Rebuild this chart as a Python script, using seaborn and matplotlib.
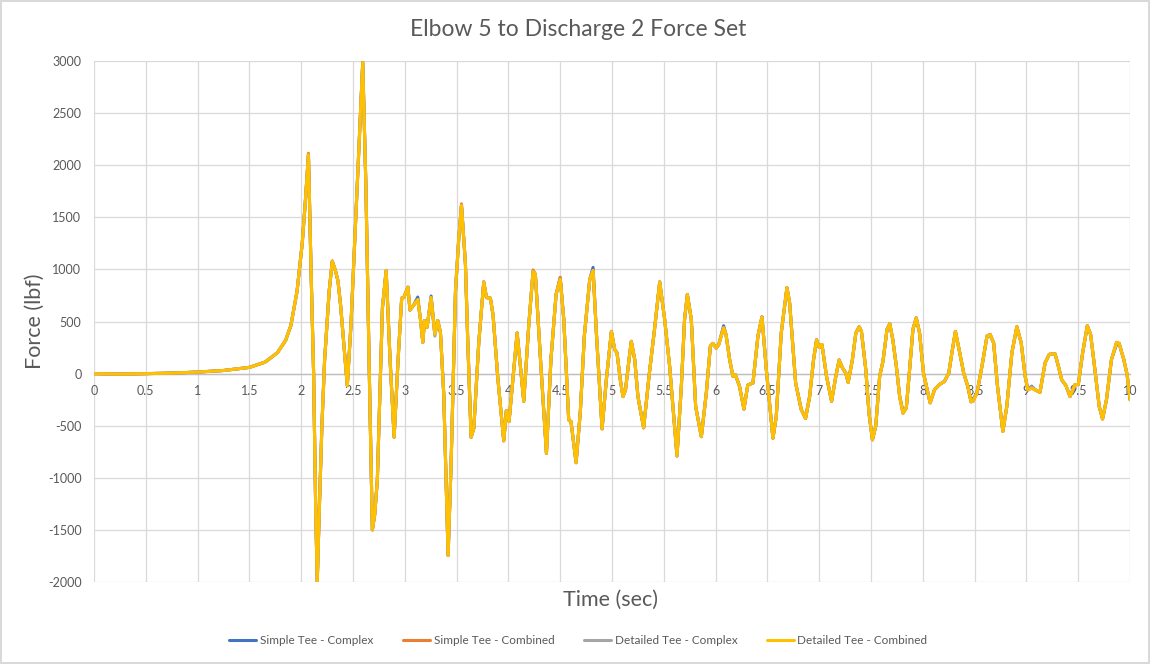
import pandas as pd
import matplotlib.pyplot as plt
import seaborn as sns
from matplotlib.ticker import MultipleLocator, FormatStrFormatter

# Values (time in sec, force in lbf)
time_s = [
    0.0, 0.25, 0.5, 0.75, 1.0, 1.25, 1.5, 1.65, 1.77, 1.85, 1.9, 1.96, 2.01, 2.04, 2.07, 2.095,
    2.12, 2.14, 2.155, 2.175, 2.2, 2.226, 2.27, 2.30, 2.33, 2.355, 2.38, 2.41, 2.445, 2.48, 2.525,
    2.57, 2.594, 2.625, 2.655, 2.687, 2.71, 2.735, 2.784, 2.82, 2.858, 2.897, 2.935, 2.97, 2.99,
    3.03, 3.05, 3.087, 3.125, 3.15, 3.174, 3.19, 3.215, 3.254, 3.29, 3.318, 3.344, 3.376, 3.408,
    3.418, 3.447, 3.489, 3.52, 3.547, 3.585, 3.608, 3.64, 3.666, 3.714, 3.762, 3.788, 3.826, 3.852,
    3.897, 3.955, 3.98, 4.006, 4.045, 4.084, 4.11, 4.148, 4.196, 4.238, 4.26, 4.31, 4.367, 4.41,
    4.46, 4.5, 4.534, 4.582, 4.604, 4.653, 4.694, 4.733, 4.785, 4.817, 4.849, 4.904, 4.945, 4.994,
    5.026, 5.048, 5.08, 5.106, 5.13, 5.164, 5.186, 5.219, 5.25, 5.305, 5.357, 5.41, 5.46, 5.508,
    5.556, 5.588, 5.627, 5.669, 5.7, 5.727, 5.765, 5.807, 5.862, 5.91, 5.949, 5.974, 6.006, 6.03,
    6.077, 6.1, 6.135, 6.167, 6.19, 6.23, 6.273, 6.31, 6.36, 6.408, 6.447, 6.489, 6.553, 6.585,
    6.633, 6.688, 6.714, 6.772, 6.826, 6.868, 6.907, 6.945, 6.974, 7.0, 7.026, 7.07, 7.119, 7.16,
    7.192, 7.224, 7.256, 7.279, 7.32, 7.353, 7.385, 7.407, 7.449, 7.48, 7.513, 7.545, 7.583, 7.615,
    7.654, 7.68, 7.71, 7.744, 7.776, 7.808, 7.84, 7.872, 7.904, 7.936, 7.968, 8.006, 8.07, 8.112,
    8.16, 8.208, 8.25, 8.28, 8.314, 8.353, 8.394, 8.433, 8.465, 8.484, 8.522, 8.57, 8.619, 8.65,
    8.683, 8.72, 8.772, 8.81, 8.859, 8.907, 8.949, 8.987, 9.013, 9.05, 9.083, 9.13, 9.18, 9.22,
    9.276, 9.308, 9.34, 9.381, 9.42, 9.468, 9.5, 9.542, 9.587, 9.619, 9.66, 9.702, 9.734, 9.772,
    9.82, 9.869, 9.894, 9.939, 9.971, 10.0,
]

detailed_combined = [
    0, -5, 0, 5, 15, 30, 60, 110, 200, 320, 460, 790, 1250, 1650, 2100, 1000,
    0, -1300, -2000, -1300, -500, 130, 790, 1080, 990, 890, 660, 300, -115, 460, 1450,
    2440, 2985, 1780, 130, -1500, -1350, -1020, 630, 990, 130, -610, 130, 725, 730,
    830, 610, 660, 710, 530, 300, 510, 445, 730, 380, 510, 395, -200, -1350,
    -1745, -860, 790, 1285, 1615, 1055, 300, -610, -525, 300, 880, 730, 725, 560,
    -35, -645, -355, -460, -35, 390, 130, -265, 460, 980, 955, 130, -765, 130,
    760, 905, 525, -445, -460, -855, -365, 365, 905, 990, 390, -530, -60, 405,
    230, 200, -60, -220, -155, 135, 310, 135, -220, -520, -25, 425, 880, 520,
    70, -315, -790, -120, 520, 760, 520, -315, -605, -185, 265, 290, 245, 280,
    440, 375, 135, -25, -10, -120, -340, -110, -90, 360, 545, 40, -620, -410,
    390, 825, 680, -90, -345, -430, -220, 135, 325, 250, 280, -25, -265, -25,
    130, 55, 5, -85, 135, 390, 450, 405, 40, -380, -635, -505, -25, 120,
    425, 480, 325, 70, -220, -380, -330, 40, 425, 535, 390, 5, -280, -155,
    -105, -75, 5, 200, 405, 215, 5, -120, -270, -265, -185, 70, 360, 375,
    295, -120, -555, -315, 200, 450, 295, -25, -155, -140, -155, -180, 105, 185,
    190, 70, -60, -115, -220, -105, -105, 200, 460, 375, 40, -315, -435, -250,
    135, 300, 290, 135, -10, -250,
]

# peaks where the other series show from under the yellow line
simple_complex_peaks = {3.125: 735, 3.254: 745, 4.817: 1020, 6.077: 460, 7.808: -360,
                        8.484: -245, 9.05: -120, 9.869: 280, 4.5: 920}
simple_combined_peaks = {2.07: 2115, 2.594: 3000, 4.238: 995, 4.5: 925, 3.547: 1630}
detailed_complex_peaks = {3.29: 360, 6.868: -410, 9.05: -125, 8.65: 360}

series_names = ["Simple Tee - Complex", "Simple Tee - Combined",
                "Detailed Tee - Complex", "Detailed Tee - Combined"]
series_colors = ["#4472C4", "#ED7D31", "#A5A5A5", "#FFC000"]


def with_peaks(peaks):
    return [peaks.get(t, v) for t, v in zip(time_s, detailed_combined)]


series_values = [with_peaks(simple_complex_peaks), with_peaks(simple_combined_peaks),
                 with_peaks(detailed_complex_peaks), detailed_combined]

df = pd.concat([
    pd.DataFrame({"Time": time_s, "Force": vals, "Series": name})
    for name, vals in zip(series_names, series_values)
])

sns.set_style("white")
plt.rcParams["font.family"] = ["Lato", "DejaVu Sans"]

fig = plt.figure(figsize=(11.5, 6.64), dpi=100, edgecolor="#d9d9d9", linewidth=1.5)
ax = fig.add_axes([0.0817, 0.1235, 0.901, 0.7845])

sns.lineplot(data=df, x="Time", y="Force", hue="Series", hue_order=series_names,
             palette=series_colors, estimator=None, sort=False, linewidth=2.2, ax=ax)

ax.set_xlim(0, 10)
ax.set_ylim(-2000, 3000)
ax.xaxis.set_major_locator(MultipleLocator(0.5))
ax.yaxis.set_major_locator(MultipleLocator(500))
ax.xaxis.set_major_formatter(FormatStrFormatter("%g"))
ax.yaxis.set_major_formatter(FormatStrFormatter("%d"))
ax.grid(True, color="#d9d9d9", linewidth=0.9)
ax.set_axisbelow(True)

for side in ["top", "right", "left"]:
    ax.spines[side].set_visible(False)
ax.spines["bottom"].set_position(("data", 0))
ax.spines["bottom"].set_color("#bfbfbf")
ax.spines["bottom"].set_linewidth(1)
ax.spines["bottom"].set_zorder(1)

ax.tick_params(axis="both", length=0, labelsize=9, labelcolor="#595959")
ax.tick_params(axis="x", pad=8)
ax.tick_params(axis="y", pad=9)

ax.set_xlabel("")
ax.set_ylabel("")
fig.text(0.503, 0.955, "Elbow 5 to Discharge 2 Force Set", fontsize=16.5, color="#595959",
         ha="center", va="center")
fig.text(0.0304, 0.5166, "Force (lbf)", fontsize=15.5, color="#595959", rotation=90,
         ha="center", va="center")
fig.text(0.531, 0.096, "Time (sec)", fontsize=15.5, color="#595959", ha="center", va="center")

handles, labels = ax.get_legend_handles_labels()
ax.get_legend().remove()
fig.legend(handles, labels, loc="center", bbox_to_anchor=(0.503, 0.035), ncol=4,
           frameon=False, fontsize=8.5, handlelength=2.3, columnspacing=2.5,
           handletextpad=0.3, labelcolor="#595959")

fig.savefig("out.png", dpi=100)
